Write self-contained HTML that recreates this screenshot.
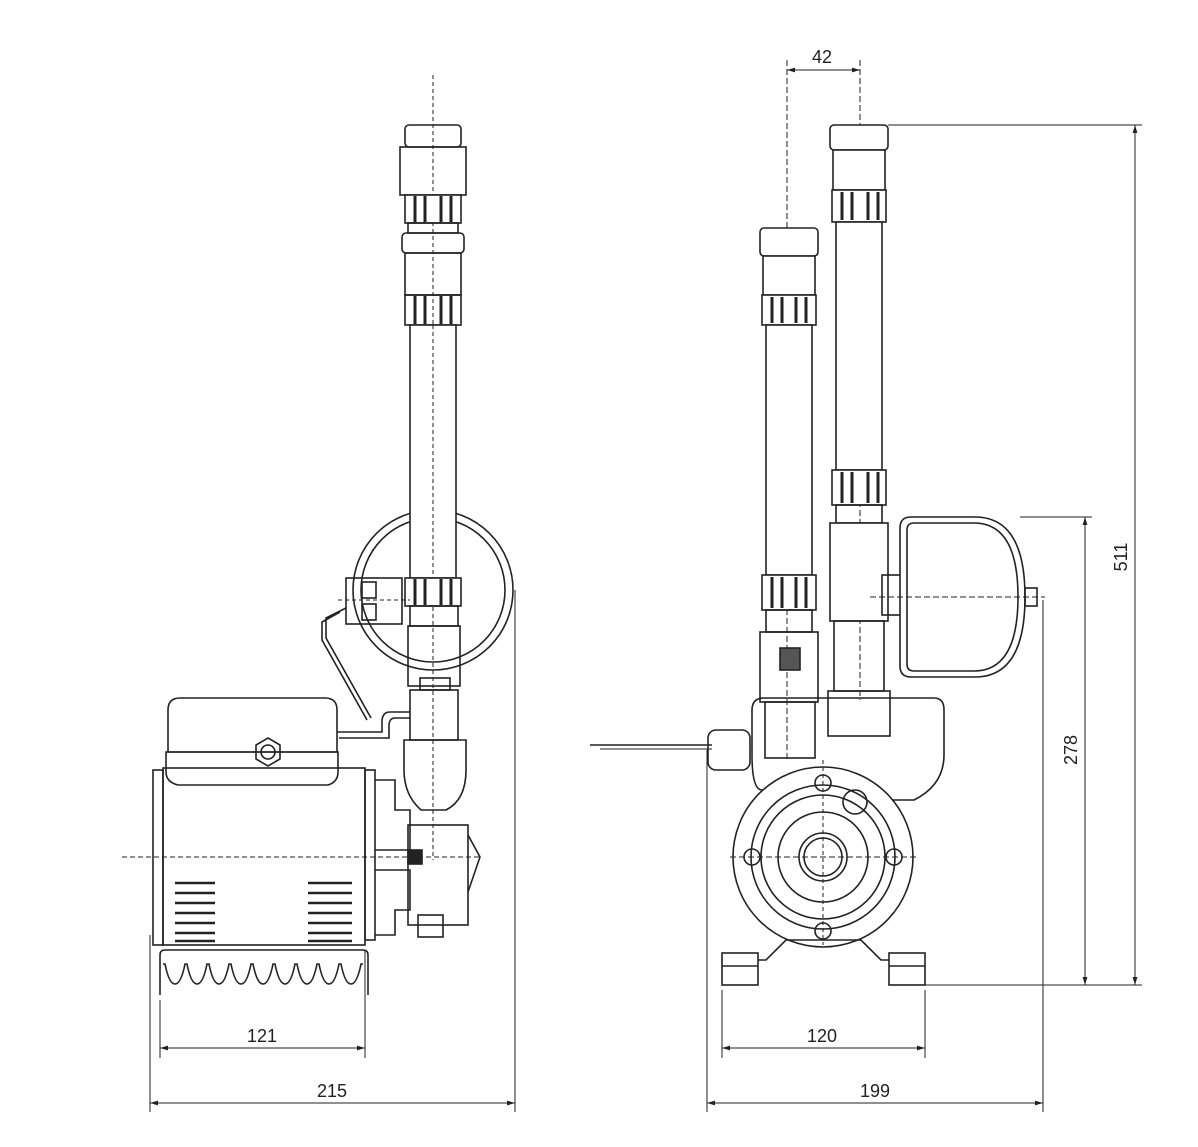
<!DOCTYPE html>
<html><head><meta charset="utf-8"><style>
html,body{margin:0;padding:0;background:#fff;}
svg{display:block;}
text{font-family:"Liberation Sans",sans-serif;font-size:18px;fill:#222;}
</style></head><body>
<svg width="1198" height="1147" viewBox="0 0 1198 1147" xmlns="http://www.w3.org/2000/svg">
<defs>
<marker id="a" viewBox="0 0 10 10" refX="10" refY="5" markerWidth="8" markerHeight="8" orient="auto-start-reverse"><path d="M0,2 L10,5 L0,8 z" fill="#222"/></marker>
</defs>
<g stroke="#222" stroke-width="1.6" fill="none">
<line x1="433" y1="75" x2="433" y2="860" stroke-dasharray="4,3" stroke-width="1"/>
<circle cx="433" cy="590" r="80"/>
<circle cx="433" cy="590" r="72"/>
<rect x="405" y="125" width="56" height="22" rx="4"/>
<rect x="400" y="147" width="66" height="48"/>
<rect x="405" y="195" width="56" height="28" fill="#fff"/>
<g stroke-width="3"><line x1="415" y1="196" x2="415" y2="222"/><line x1="425" y1="196" x2="425" y2="222"/><line x1="441" y1="196" x2="441" y2="222"/><line x1="451" y1="196" x2="451" y2="222"/></g>
<rect x="408" y="223" width="50" height="10"/>
<rect x="402" y="233" width="62" height="20" rx="4"/>
<rect x="405" y="253" width="56" height="42"/>
<rect x="405" y="295" width="56" height="30"/>
<g stroke-width="3"><line x1="415" y1="296" x2="415" y2="324"/><line x1="425" y1="296" x2="425" y2="324"/><line x1="441" y1="296" x2="441" y2="324"/><line x1="451" y1="296" x2="451" y2="324"/></g>
<rect x="410" y="325" width="46" height="253" fill="#fff"/>
<line x1="433" y1="325" x2="433" y2="578" stroke-dasharray="4,3" stroke-width="1"/>
<rect x="405" y="578" width="56" height="28" fill="#fff"/>
<g stroke-width="3"><line x1="415" y1="579" x2="415" y2="605"/><line x1="425" y1="579" x2="425" y2="605"/><line x1="441" y1="579" x2="441" y2="605"/><line x1="451" y1="579" x2="451" y2="605"/></g>
<rect x="410" y="606" width="48" height="20"/>
<rect x="408" y="626" width="52" height="60"/>
<rect x="420" y="678" width="30" height="12"/>
<rect x="410" y="690" width="48" height="50"/>
<path d="M404,740 h62 v30 q0,30 -20,40 h-25 q-17,-15 -17,-40 z"/>
<rect x="346" y="578" width="56" height="46"/>
<rect x="362" y="582" width="14" height="16"/><rect x="362" y="604" width="14" height="16"/>
<line x1="338" y1="600" x2="410" y2="600" stroke-dasharray="4,3" stroke-width="1"/>
<path d="M346,608 l-20,10 v20 l45,80 M340,612 l-18,10 v18 l45,80"/>
<path d="M410,712 h-20 q-8,0 -8,10 v10 h-45 M410,718 h-15 q-6,0 -6,8 v12 h-50"/>
<path d="M168,752 v-42 q0,-12 12,-12 h145 q12,0 12,12 v42 z"/>
<path d="M166,752 h172 v20 q0,10 -10,13 h-150 q-12,-3 -12,-13 z"/>
<polygon points="268,738 280,745 280,759 268,766 256,759 256,745"/>
<circle cx="268" cy="752" r="7"/>
<rect x="153" y="770" width="10" height="175"/>
<rect x="163" y="768" width="202" height="177"/>
<rect x="365" y="770" width="10" height="170"/>
<g stroke-width="2.5">
<line x1="175" y1="883" x2="215" y2="883"/><line x1="175" y1="893" x2="215" y2="893"/><line x1="175" y1="903" x2="215" y2="903"/><line x1="175" y1="913" x2="215" y2="913"/><line x1="175" y1="923" x2="215" y2="923"/><line x1="175" y1="933" x2="215" y2="933"/><line x1="175" y1="941" x2="215" y2="941"/>
<line x1="308" y1="883" x2="352" y2="883"/><line x1="308" y1="893" x2="352" y2="893"/><line x1="308" y1="903" x2="352" y2="903"/><line x1="308" y1="913" x2="352" y2="913"/><line x1="308" y1="923" x2="352" y2="923"/><line x1="308" y1="933" x2="352" y2="933"/><line x1="308" y1="941" x2="352" y2="941"/>
</g>
<path d="M160,995 v-40 q0,-5 5,-5 h198 q5,0 5,5 v40"/>
<path d="M163,964 l2,0 q4,20 10,20 q6,0 10,-20 l2,0 q4,20 10,20 q6,0 10,-20 l2,0 q4,20 10,20 q6,0 10,-20 l2,0 q4,20 10,20 q6,0 10,-20 l2,0 q4,20 10,20 q6,0 10,-20 l2,0 q4,20 10,20 q6,0 10,-20 l2,0 q4,20 10,20 q6,0 10,-20 l2,0 q4,20 10,20 q6,0 10,-20 l2,0 q4,20 10,20 q6,0 10,-20 l2,0"/>
<path d="M375,780 h20 v30 h15 v40 h-35 M375,870 h35 v40 h-15 v25 h-20"/>
<rect x="408" y="825" width="60" height="100"/>
<path d="M468,835 l12,22 l-12,35"/>
<rect x="418" y="915" width="25" height="22"/>
<rect x="408" y="850" width="14" height="14" fill="#222"/>
<line x1="122" y1="857" x2="480" y2="857" stroke-dasharray="5,3" stroke-width="1"/>
<line x1="150" y1="935" x2="150" y2="1112" stroke-width="1"/>
<line x1="515" y1="590" x2="515" y2="1112" stroke-width="1"/>
<line x1="160" y1="1000" x2="160" y2="1058" stroke-width="1"/>
<line x1="365" y1="950" x2="365" y2="1058" stroke-width="1"/>
<line x1="160" y1="1048" x2="365" y2="1048" stroke-width="1" marker-start="url(#a)" marker-end="url(#a)"/>
<line x1="150" y1="1103" x2="515" y2="1103" stroke-width="1" marker-start="url(#a)" marker-end="url(#a)"/>

<line x1="787" y1="60" x2="787" y2="760" stroke-dasharray="6,3" stroke-width="1"/>
<line x1="860" y1="60" x2="860" y2="700" stroke-dasharray="6,3" stroke-width="1"/>
<line x1="787" y1="70" x2="860" y2="70" stroke-width="1" marker-start="url(#a)" marker-end="url(#a)"/>
<rect x="830" y="125" width="58" height="25" rx="4" fill="#fff"/>
<rect x="833" y="150" width="52" height="40" fill="#fff"/>
<rect x="832" y="190" width="54" height="32" fill="#fff"/>
<g stroke-width="3"><line x1="842" y1="192" x2="842" y2="220"/><line x1="852" y1="192" x2="852" y2="220"/><line x1="868" y1="192" x2="868" y2="220"/><line x1="878" y1="192" x2="878" y2="220"/></g>
<rect x="836" y="222" width="46" height="248" fill="#fff"/>
<rect x="832" y="470" width="54" height="35" fill="#fff"/>
<g stroke-width="3"><line x1="842" y1="472" x2="842" y2="503"/><line x1="852" y1="472" x2="852" y2="503"/><line x1="868" y1="472" x2="868" y2="503"/><line x1="878" y1="472" x2="878" y2="503"/></g>
<rect x="836" y="505" width="46" height="18"/>
<rect x="830" y="523" width="58" height="98" fill="#fff"/>
<rect x="882" y="575" width="22" height="40"/>
<rect x="834" y="621" width="50" height="70"/>
<rect x="828" y="691" width="62" height="45"/>
<rect x="760" y="228" width="58" height="28" rx="4" fill="#fff"/>
<rect x="763" y="256" width="52" height="39" fill="#fff"/>
<rect x="762" y="295" width="54" height="30" fill="#fff"/>
<g stroke-width="3"><line x1="772" y1="297" x2="772" y2="323"/><line x1="782" y1="297" x2="782" y2="323"/><line x1="796" y1="297" x2="796" y2="323"/><line x1="806" y1="297" x2="806" y2="323"/></g>
<rect x="766" y="325" width="46" height="250" fill="#fff"/>
<rect x="762" y="575" width="54" height="35" fill="#fff"/>
<g stroke-width="3"><line x1="772" y1="577" x2="772" y2="608"/><line x1="782" y1="577" x2="782" y2="608"/><line x1="796" y1="577" x2="796" y2="608"/><line x1="806" y1="577" x2="806" y2="608"/></g>
<rect x="766" y="610" width="46" height="22"/>
<rect x="760" y="632" width="58" height="70"/>
<rect x="780" y="648" width="20" height="22" fill="#555"/>
<rect x="765" y="702" width="50" height="56"/>
<path d="M900,528 q0,-11 11,-11 h64 q50,0 50,80 q0,80 -50,80 h-64 q-11,0 -11,-11 z" fill="#fff"/>
<path d="M907,530 q0,-7 7,-7 h60 q44,0 44,74 q0,74 -44,74 h-60 q-7,0 -7,-7 z"/>
<rect x="1025" y="588" width="12" height="18"/>
<line x1="870" y1="597" x2="1045" y2="597" stroke-dasharray="6,3" stroke-width="1"/>
<path d="M752,755 v-45 q0,-12 12,-12 h170 q10,0 10,12 v45 q0,30 -30,45 h-40"/>
<path d="M762,790 q-10,0 -10,-35"/>
<rect x="708" y="730" width="42" height="40" rx="8"/>
<line x1="590" y1="745" x2="712" y2="745"/>
<line x1="600" y1="749" x2="712" y2="749" stroke-width="1"/>
<circle cx="823" cy="857" r="90" fill="#fff"/>
<circle cx="823" cy="857" r="72"/>
<circle cx="823" cy="857" r="62"/>
<circle cx="823" cy="857" r="45"/>
<circle cx="823" cy="857" r="24"/>
<circle cx="823" cy="857" r="19"/>
<circle cx="855" cy="802" r="12"/>
<circle cx="823" cy="783" r="8"/><circle cx="823" cy="931" r="8"/>
<circle cx="752" cy="857" r="8"/><circle cx="894" cy="857" r="8"/>
<line x1="730" y1="857" x2="916" y2="857" stroke-dasharray="6,3" stroke-width="1"/>
<line x1="823" y1="760" x2="823" y2="945" stroke-dasharray="4,3" stroke-width="1"/>
<rect x="722" y="953" width="36" height="32"/>
<rect x="889" y="953" width="36" height="32"/>
<line x1="722" y1="966" x2="758" y2="966"/><line x1="889" y1="966" x2="925" y2="966"/>
<path d="M758,960 h8 l20,-20 h75 l20,20 h8"/>
<line x1="888" y1="125" x2="1142" y2="125" stroke-width="1"/>
<line x1="1020" y1="517" x2="1092" y2="517" stroke-width="1"/>
<line x1="925" y1="985" x2="1142" y2="985" stroke-width="1"/>
<line x1="1135" y1="125" x2="1135" y2="985" stroke-width="1" marker-start="url(#a)" marker-end="url(#a)"/>
<line x1="1085" y1="517" x2="1085" y2="985" stroke-width="1" marker-start="url(#a)" marker-end="url(#a)"/>
<line x1="707" y1="750" x2="707" y2="1112" stroke-width="1"/>
<line x1="1043" y1="600" x2="1043" y2="1112" stroke-width="1"/>
<line x1="722" y1="990" x2="722" y2="1058" stroke-width="1"/>
<line x1="925" y1="990" x2="925" y2="1058" stroke-width="1"/>
<line x1="722" y1="1048" x2="925" y2="1048" stroke-width="1" marker-start="url(#a)" marker-end="url(#a)"/>
<line x1="707" y1="1103" x2="1043" y2="1103" stroke-width="1" marker-start="url(#a)" marker-end="url(#a)"/>
</g>
<text x="262" y="1042" text-anchor="middle">121</text>
<text x="332" y="1097" text-anchor="middle">215</text>
<text x="822" y="1042" text-anchor="middle">120</text>
<text x="875" y="1097" text-anchor="middle">199</text>
<text x="822" y="63" text-anchor="middle">42</text>
<text transform="translate(1127,557) rotate(-90)" text-anchor="middle">511</text>
<text transform="translate(1077,750) rotate(-90)" text-anchor="middle">278</text>
</svg>
</body></html>
